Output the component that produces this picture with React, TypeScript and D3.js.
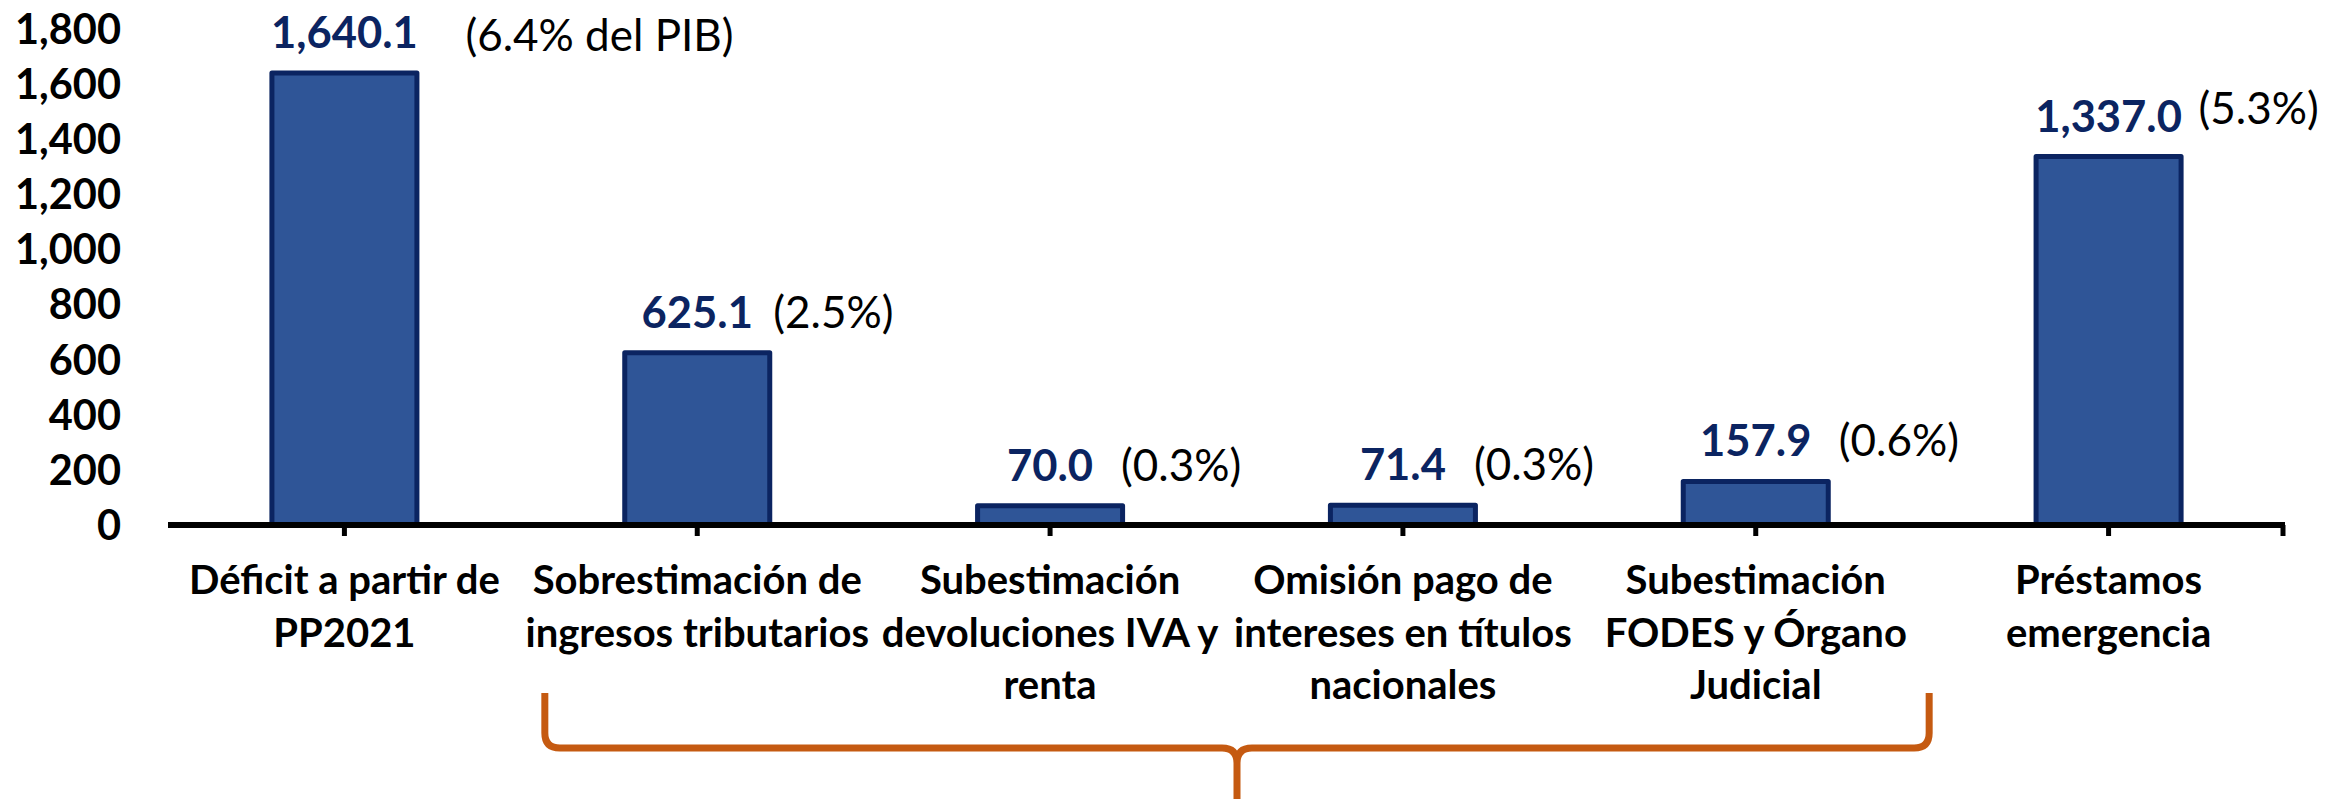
import React from "react";
import * as d3 from "d3";

const categories: string[][] = [
  ["Déficit a partir de", "PP2021"],
  ["Sobrestimación de", "ingresos tributarios"],
  ["Subestimación", "devoluciones IVA y", "renta"],
  ["Omisión pago de", "intereses en títulos", "nacionales"],
  ["Subestimación", "FODES y Órgano", "Judicial"],
  ["Préstamos", "emergencia"],
];
const values: number[] = [1640.1, 625.1, 70.0, 71.4, 157.9, 1337.0];
const pibShare: string[] = ["(6.4% del PIB)", "(2.5%)", "(0.3%)", "(0.3%)", "(0.6%)", "(5.3%)"];
const yTicks: number[] = [0, 200, 400, 600, 800, 1000, 1200, 1400, 1600, 1800];

// layout-only offsets for the share annotations (relative to bar centre / value baseline)
const shareDx: number[] = [121, 76, 71, 71, 83, 90];
const shareDy: number[] = [3, 0, 0, 0, 0, -8];

const W = 2325;
const H = 799;
const FONT = "Lato, 'Noto Sans', sans-serif";
const BAR_FILL = "#2F5597";
const BAR_STROKE = "#0B2461";
const NAVY = "#0B2461";
const ORANGE = "#C55A11";

export default function App() {
  const x = d3
    .scaleBand<number>()
    .domain(d3.range(categories.length))
    .range([168, 2285])
    .paddingInner(0.589)
    .paddingOuter(0.2945);
  const band = d3.scaleBand<number>().domain(d3.range(categories.length)).range([168, 2285]);
  const y = d3.scaleLinear().domain([0, 1800]).range([525, 29]);
  const fmtTick = d3.format(",");
  const fmtVal = d3.format(",.1f");

  const cx = (i: number) => (band(i) as number) + band.bandwidth() / 2;

  // bracket spanning categories 2..5
  const bl = (band(1) as number) + 24;
  const br = (band(4) as number) + band.bandwidth() - 3;
  const bm = (bl + br) / 2;
  const bTop = 693;
  const bY = 748;
  const r = 15;
  const bracket = d3.path();
  bracket.moveTo(bl, bTop);
  bracket.lineTo(bl, bY - r);
  bracket.quadraticCurveTo(bl, bY, bl + r, bY);
  bracket.lineTo(bm - r, bY);
  bracket.quadraticCurveTo(bm, bY, bm, bY + r);
  bracket.lineTo(bm, H + 5);
  bracket.moveTo(bm, bY + r);
  bracket.quadraticCurveTo(bm, bY, bm + r, bY);
  bracket.lineTo(br - r, bY);
  bracket.quadraticCurveTo(br, bY, br, bY - r);
  bracket.lineTo(br, bTop);

  return (
    <svg
      width={W}
      height={H}
      style={{ position: "absolute", left: 0, top: 0, background: "#fff" }}
      fontFamily={FONT}
    >
      <rect x={0} y={0} width={W} height={H} fill="#fff" />
      {/* y tick labels */}
      {yTicks.map((t) => (
        <text
          key={t}
          x={121}
          y={y(t)}
          dy="0.36em"
          textAnchor="end"
          fontSize={41.5}
          fontWeight={700}
          fill="#000"
        >
          {fmtTick(t)}
        </text>
      ))}
      {/* bars */}
      {values.map((v, i) => (
        <rect
          key={i}
          x={x(i) as number}
          y={y(v)}
          width={x.bandwidth()}
          height={y(0) - y(v)}
          fill={BAR_FILL}
          stroke={BAR_STROKE}
          strokeWidth={5}
          strokeLinejoin="round"
        />
      ))}
      {/* x axis */}
      <line x1={168} x2={2285} y1={y(0)} y2={y(0)} stroke="#000" strokeWidth={6} />
      {values.map((_, i) => (
        <line key={i} x1={cx(i)} x2={cx(i)} y1={y(0)} y2={y(0) + 11} stroke="#000" strokeWidth={5} />
      ))}
      <line x1={2283} x2={2283} y1={y(0)} y2={y(0) + 11} stroke="#000" strokeWidth={5} />
      {/* value labels */}
      {values.map((v, i) => (
        <text
          key={i}
          x={cx(i)}
          y={y(v) - 25}
          textAnchor="middle"
          fontSize={43.5}
          fontWeight={700}
          fill={NAVY}
        >
          {fmtVal(v)}
        </text>
      ))}
      {/* share of GDP labels */}
      {pibShare.map((s, i) => (
        <text
          key={i}
          x={cx(i) + shareDx[i]}
          y={y(values[i]) - 25 + shareDy[i]}
          textAnchor="start"
          fontSize={44}
          fontWeight={400}
          fill="#000"
        >
          {s}
        </text>
      ))}
      {/* category labels */}
      {categories.map((lines, i) => (
        <text key={i} x={cx(i)} y={594} textAnchor="middle" fontSize={40} fontWeight={700} fill="#000">
          {lines.map((l, j) => (
            <tspan key={j} x={cx(i)} dy={j === 0 ? 0 : 52.5}>
              {l}
            </tspan>
          ))}
        </text>
      ))}
      {/* bracket */}
      <path d={bracket.toString()} fill="none" stroke={ORANGE} strokeWidth={7} strokeLinecap="butt" />
    </svg>
  );
}
